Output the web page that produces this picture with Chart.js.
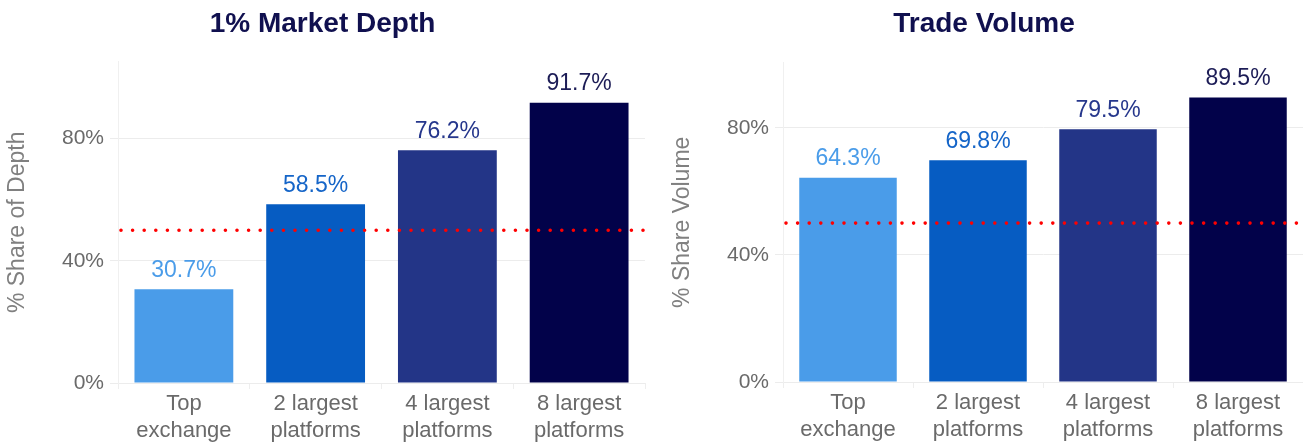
<!DOCTYPE html>
<html>
<head>
<meta charset="utf-8">
<script src="https://cdn.jsdelivr.net/npm/chart.js@4/dist/chart.umd.min.js"></script>
<style>
  body { margin: 0; background: #fff; }
  .row { display: flex; width: 1303px; height: 443px; }
  .box { position: relative; height: 443px; }
</style>
</head>
<body>
<div class="row">
  <div class="box" style="width:650px"><canvas id="depthChart"></canvas></div>
  <div class="box" style="width:653px"><canvas id="volumeChart"></canvas></div>
</div>
<script>
const categories = [
  ["Top", "exchange"],
  ["2 largest", "platforms"],
  ["4 largest", "platforms"],
  ["8 largest", "platforms"],
];
const depthShare = [30.7, 58.5, 76.2, 91.7];
const volumeShare = [64.3, 69.8, 79.5, 89.5];
const yTicks = [0, 40, 80];
const threshold = 50;

const barColors = ["#4a9ce9", "#065cc2", "#233587", "#02024a"];
const labelColors = ["#4a9ce9", "#1565c8", "#26378c", "#1c1c56"];

const FONT = "'Liberation Sans', Arial, sans-serif";

// value labels above each bar
const barLabels = {
  id: "barLabels",
  afterDatasetsDraw(chart) {
    const ctx = chart.ctx;
    const meta = chart.getDatasetMeta(0);
    const values = chart.data.datasets[0].data;
    ctx.save();
    ctx.font = `23px ${FONT}`;
    ctx.textAlign = "center";
    ctx.textBaseline = "middle";
    meta.data.forEach((bar, i) => {
      ctx.fillStyle = labelColors[i];
      ctx.fillText(values[i].toFixed(1) + "%", bar.x, bar.y - 19);
    });
    ctx.restore();
  },
};

// dotted red majority line at 50%
const majorityLine = {
  id: "majorityLine",
  afterDatasetsDraw(chart) {
    const { ctx, chartArea, scales } = chart;
    const y = scales.y.getPixelForValue(threshold);
    ctx.save();
    ctx.strokeStyle = "#ff0000";
    ctx.lineWidth = 3.6;
    ctx.lineCap = "round";
    ctx.setLineDash([0, 11.6]);
    ctx.beginPath();
    ctx.moveTo(chartArea.left + 3, y);
    ctx.lineTo(chartArea.right, y);
    ctx.stroke();
    ctx.restore();
  },
};

function makeChart(id, title, yTitle, values, cfg) {
  return new Chart(document.getElementById(id), {
    type: "bar",
    data: {
      labels: categories,
      datasets: [
        {
          data: values,
          backgroundColor: barColors,
          barPercentage: 0.75,
          categoryPercentage: 1,
        },
      ],
    },
    options: {
      responsive: true,
      maintainAspectRatio: false,
      animation: false,
      layout: { padding: { left: cfg.padLeft, right: cfg.padRight, top: 0, bottom: 0 } },
      plugins: {
        legend: { display: false },
        tooltip: { enabled: false },
        title: {
          display: true,
          text: title,
          color: "#10104f",
          font: { family: FONT, size: 28, weight: "bold" },
          padding: { top: 7, bottom: cfg.titleGap },
        },
      },
      scales: {
        x: {
          offset: true,
          grid: {
            offset: true,
            drawOnChartArea: false,
            drawTicks: true,
            tickLength: 6,
            color: "#eeeeee",
          },
          border: { display: false },
          ticks: {
            color: "#6a6a6a",
            padding: 1,
            font: { family: FONT, size: 22, lineHeight: 1.25 },
            maxRotation: 0,
            autoSkip: false,
          },
          afterFit(scale) {
            scale.height = cfg.xHeight;
          },
        },
        y: {
          min: 0,
          max: cfg.yMax,
          afterBuildTicks(scale) {
            scale.ticks = yTicks.map((v) => ({ value: v }));
          },
          grid: { color: "#ececec", tickLength: 8 },
          border: { display: true, color: "#f0f0f0" },
          ticks: {
            color: "#6a6a6a",
            padding: 6,
            font: { family: FONT, size: 21 },
            callback: (v) => v + "%",
          },
          title: {
            display: true,
            text: yTitle,
            color: "#808080",
            padding: { top: 4, bottom: 0 },
            font: { family: FONT, size: 23 },
          },
          afterFit(scale) {
            scale.width = 118;
          },
        },
      },
    },
    plugins: [majorityLine, barLabels],
  });
}

makeChart("depthChart", "1% Market Depth", "% Share of Depth", depthShare, {
  padLeft: 0,
  padRight: 5,
  titleGap: 21,
  xHeight: 60,
  yMax: 105.2,
});

makeChart("volumeChart", "Trade Volume", "% Share Volume", volumeShare, {
  padLeft: 15,
  padRight: 0,
  titleGap: 22,
  xHeight: 61,
  yMax: 100.5,
});
</script>
</body>
</html>
